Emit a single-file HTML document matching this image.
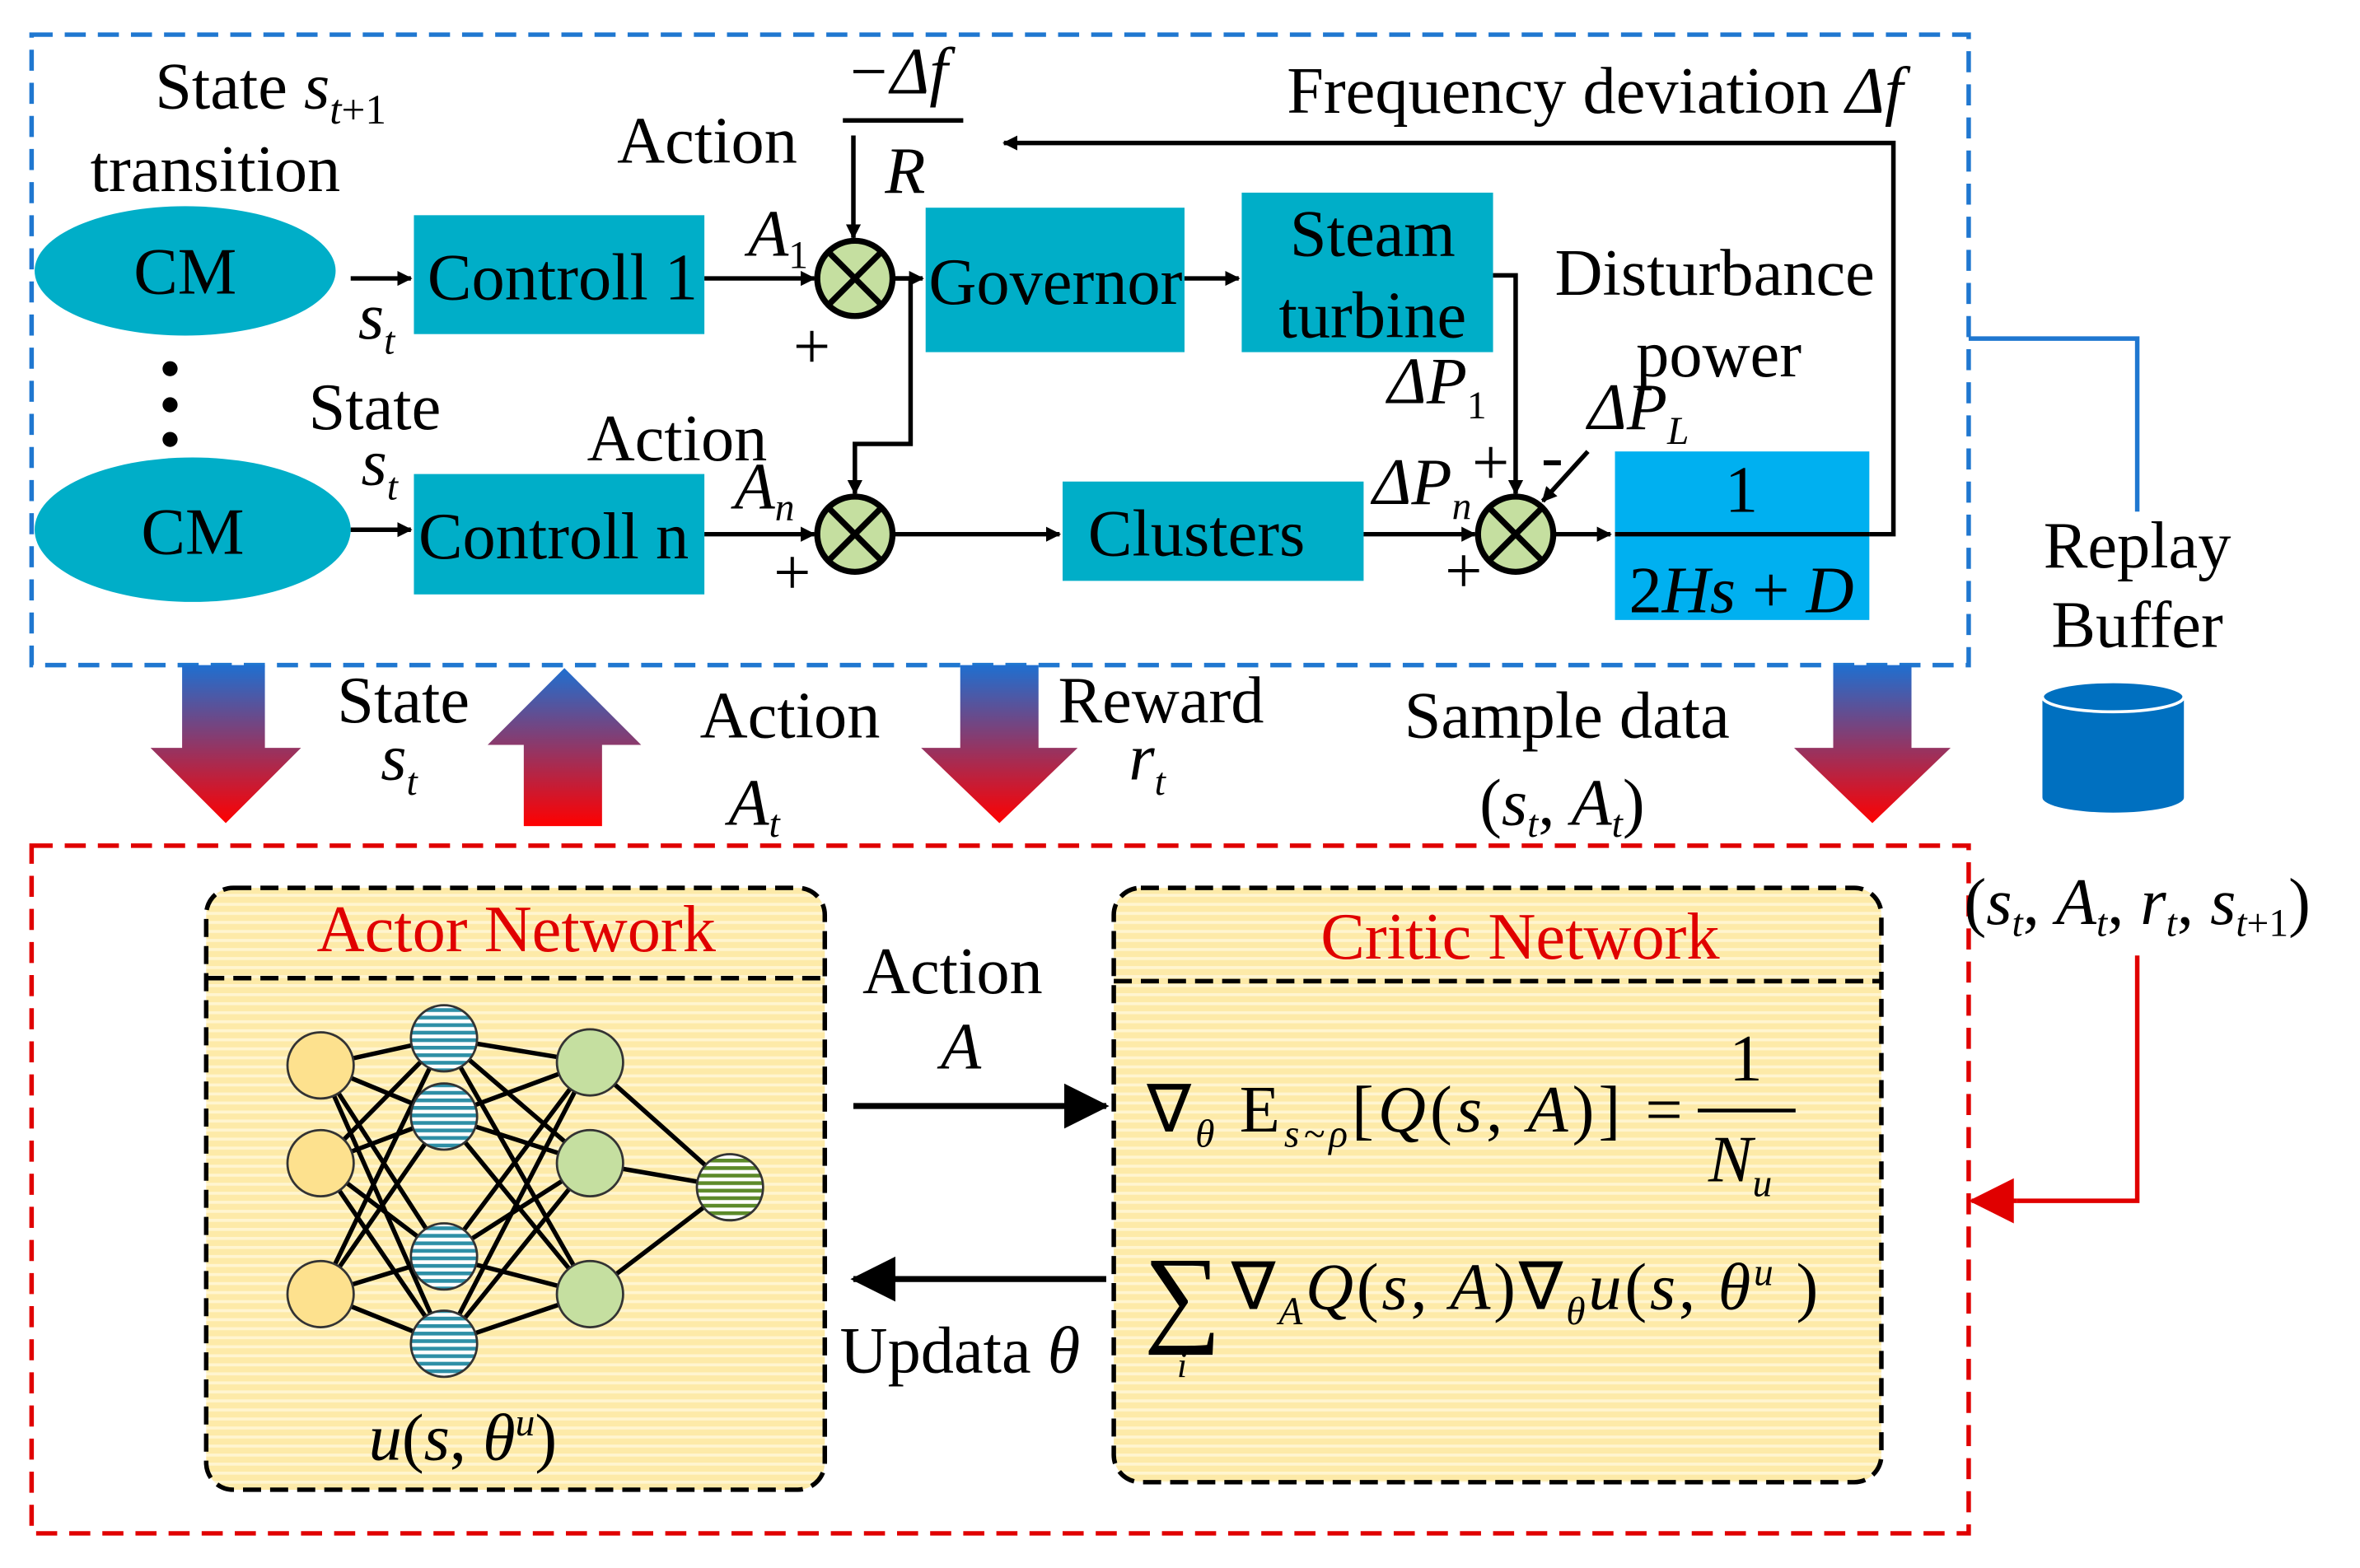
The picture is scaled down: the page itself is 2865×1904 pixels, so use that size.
<!DOCTYPE html>
<html><head><meta charset="utf-8"><style>
html,body{margin:0;padding:0;background:#fff}
svg{display:block}
text{font-family:"Liberation Serif",serif;fill:#000}
.t{font-size:44px}
.i{font-style:italic}
</style></head><body>
<svg width="2865" height="1904" viewBox="0 0 1568 1042" xmlns="http://www.w3.org/2000/svg">
<defs>
<marker id="ah" markerWidth="10" markerHeight="10" refX="9" refY="5" orient="auto" markerUnits="userSpaceOnUse"><path d="M0,0 L10,5 L0,10 z" fill="#000"/></marker>
<marker id="ahb" markerWidth="30" markerHeight="30" refX="28" refY="15" orient="auto" markerUnits="userSpaceOnUse"><path d="M0,0 L30,15 L0,30 z" fill="#000"/></marker>
<marker id="ahr" markerWidth="30" markerHeight="30" refX="28" refY="15" orient="auto" markerUnits="userSpaceOnUse"><path d="M0,0 L30,15 L0,30 z" fill="#e00000"/></marker>
<linearGradient id="gd" x1="0" y1="0" x2="0" y2="1"><stop offset="0" stop-color="#1f6fd0"/><stop offset="1" stop-color="#ff0000"/></linearGradient>
<linearGradient id="gu" x1="0" y1="1" x2="0" y2="0"><stop offset="0" stop-color="#ff0000"/><stop offset="1" stop-color="#1f6fd0"/></linearGradient>
<pattern id="st" width="6" height="6" patternUnits="userSpaceOnUse"><rect width="6" height="6" fill="#fdeaa8"/><rect width="6" height="2" fill="#fff5d0"/></pattern>
<pattern id="sb" width="5" height="5" patternUnits="userSpaceOnUse"><rect width="5" height="5" fill="#fff"/><rect width="5" height="2.5" fill="#2e8fa6"/></pattern>
<pattern id="sg" width="5" height="5" patternUnits="userSpaceOnUse"><rect width="5" height="5" fill="#fff"/><rect width="5" height="2.5" fill="#5c8a2a"/></pattern>
</defs>

<rect x="21" y="23" width="1287" height="419" fill="none" stroke="#1f77d0" stroke-width="3" stroke-dasharray="14,8"/>
<rect x="21" y="562" width="1287" height="457" fill="none" stroke="#e00000" stroke-width="3" stroke-dasharray="14,8"/>

<ellipse cx="123" cy="180" rx="100" ry="43" fill="#00aec8"/>
<text x="123" y="195" class="t" text-anchor="middle">CM</text>
<ellipse cx="128" cy="352" rx="105" ry="48" fill="#00aec8"/>
<text x="128" y="368" class="t" text-anchor="middle">CM</text>
<circle cx="113" cy="245" r="5"/><circle cx="113" cy="269" r="5"/><circle cx="113" cy="292" r="5"/>
<text x="103" y="72" class="t">State <tspan class="i">s</tspan><tspan class="i" font-size="28" dy="10">t</tspan><tspan font-size="28">+1</tspan></text>
<text x="60" y="127" class="t">transition</text>

<rect x="275" y="143" width="193" height="79" fill="#00aec8"/>
<text x="284" y="199" class="t">Controll 1</text>
<rect x="275" y="315" width="193" height="80" fill="#00aec8"/>
<text x="278" y="371" class="t">Controll n</text>
<line x1="233" y1="185" x2="273" y2="185" stroke="#000" stroke-width="3" marker-end="url(#ah)"/>
<line x1="233" y1="352" x2="273" y2="352" stroke="#000" stroke-width="3" marker-end="url(#ah)"/>
<text x="238" y="225" class="t i">s<tspan font-size="26" dy="10">t</tspan></text>
<text x="205" y="285" class="t">State</text>
<text x="240" y="322" class="t i">s<tspan font-size="26" dy="10">t</tspan></text>

<g stroke="#000" stroke-width="4" fill="#c5dfa0">
<circle cx="568" cy="185" r="25"/><circle cx="568" cy="355" r="25"/><circle cx="1007" cy="355" r="25"/>
</g>
<g stroke="#000" stroke-width="4">
<path d="M550,167 L586,203 M586,167 L550,203"/>
<path d="M550,337 L586,373 M586,337 L550,373"/>
<path d="M989,337 L1025,373 M1025,337 L989,373"/>
</g>
<line x1="468" y1="185" x2="541" y2="185" stroke="#000" stroke-width="3" marker-end="url(#ah)"/>
<line x1="468" y1="355" x2="541" y2="355" stroke="#000" stroke-width="3" marker-end="url(#ah)"/>
<text x="497" y="170" class="t i">A<tspan font-size="26" dy="8" font-style="normal">1</tspan></text>
<text x="488" y="338" class="t i">A<tspan font-size="26" dy="8">n</tspan></text>
<text x="527" y="245" class="t">+</text>
<text x="514" y="395" class="t">+</text>
<text x="410" y="108" class="t">Action</text>
<text x="390" y="306" class="t">Action</text>

<text x="562" y="62" class="t i">−Δf</text>
<line x1="560" y1="80" x2="640" y2="80" stroke="#000" stroke-width="3"/>
<text x="588" y="128" class="t i">R</text>
<line x1="567" y1="90" x2="567" y2="158" stroke="#000" stroke-width="3" marker-end="url(#ah)"/>
<polyline points="593,185 605,185 605,295 568,295 568,328" fill="none" stroke="#000" stroke-width="3" marker-end="url(#ah)"/>
<line x1="593" y1="185" x2="613" y2="185" stroke="#000" stroke-width="3" marker-end="url(#ah)"/>

<rect x="615" y="138" width="172" height="96" fill="#00aec8"/>
<text x="617" y="202" class="t">Governor</text>
<line x1="787" y1="185" x2="823" y2="185" stroke="#000" stroke-width="3" marker-end="url(#ah)"/>
<rect x="825" y="128" width="167" height="106" fill="#00aec8"/>
<text x="912" y="170" class="t" text-anchor="middle">Steam</text>
<text x="912" y="224" class="t" text-anchor="middle">turbine</text>
<polyline points="992,183 1007,183 1007,328" fill="none" stroke="#000" stroke-width="3" marker-end="url(#ah)"/>

<line x1="593" y1="355" x2="704" y2="355" stroke="#000" stroke-width="3" marker-end="url(#ah)"/>
<rect x="706" y="320" width="200" height="66" fill="#00aec8"/>
<text x="795" y="369" class="t" text-anchor="middle">Clusters</text>
<line x1="906" y1="355" x2="980" y2="355" stroke="#000" stroke-width="3" marker-end="url(#ah)"/>
<text x="912" y="335" class="t i">ΔP<tspan font-size="26" dy="10">n</tspan></text>
<text x="922" y="268" class="t i">ΔP<tspan font-size="26" dy="10" font-style="normal">1</tspan></text>
<text x="978" y="322" class="t">+</text>
<text x="960" y="394" class="t">+</text>
<text x="1024" y="318" class="t">-</text>
<text x="1055" y="285" class="t i">ΔP<tspan font-size="26" dy="10">L</tspan></text>
<line x1="1055" y1="300" x2="1025" y2="333" stroke="#000" stroke-width="3" marker-end="url(#ah)"/>
<text x="1033" y="196" class="t">Disturbance</text>
<text x="1087" y="250" class="t">power</text>

<rect x="1073" y="300" width="169" height="112" fill="#00b0f0"/>
<line x1="1032" y1="355" x2="1070" y2="355" stroke="#000" stroke-width="3" marker-end="url(#ah)"/>
<line x1="1073" y1="355" x2="1242" y2="355" stroke="#000" stroke-width="3"/>
<text x="1157" y="340" class="t" text-anchor="middle">1</text>
<text x="1157" y="407" class="t i" text-anchor="middle"><tspan font-style="normal">2</tspan>Hs <tspan font-style="normal">+</tspan> D</text>
<polyline points="1242,355 1258,355 1258,95 667,95" fill="none" stroke="#000" stroke-width="3" marker-end="url(#ah)"/>
<text x="855" y="75" class="t">Frequency deviation <tspan class="i">Δf</tspan></text>

<polyline points="1308,225 1420,225 1420,340" fill="none" stroke="#1f77d0" stroke-width="3"/>
<text x="1420" y="377" class="t" text-anchor="middle">Replay</text>
<text x="1420" y="430" class="t" text-anchor="middle">Buffer</text>
<path d="M1357,463 L1357,530 A47,10 0 0 0 1451,530 L1451,463 Z" fill="#0070c0"/>
<ellipse cx="1404" cy="463" rx="47" ry="10" fill="#0070c0" stroke="#fff" stroke-width="2"/>
<text x="1305" y="614" class="t i"><tspan font-style="normal">(</tspan>s<tspan font-size="26" dy="8">t</tspan><tspan dy="-8" font-style="normal">, </tspan>A<tspan font-size="26" dy="8">t</tspan><tspan dy="-8" font-style="normal">, </tspan>r<tspan font-size="26" dy="8">t</tspan><tspan dy="-8" font-style="normal">, </tspan>s<tspan font-size="26" dy="8">t</tspan><tspan font-size="26" font-style="normal">+1</tspan><tspan dy="-8" font-style="normal">)</tspan></text>
<polyline points="1420,635 1420,798 1340,798" fill="none" stroke="#e00000" stroke-width="3"/>
<line x1="1340" y1="798" x2="1310" y2="798" stroke="#e00000" stroke-width="3" marker-end="url(#ahr)"/>

<path d="M121,442 L176,442 L176,497 L200,497 L150,547 L100,497 L121,497 Z" fill="url(#gd)"/>
<path d="M348,549 L400,549 L400,495 L426,495 L375,444 L324,495 L348,495 Z" fill="url(#gu)"/>
<path d="M638,442 L690,442 L690,497 L716,497 L664,547 L612,497 L638,497 Z" fill="url(#gd)"/>
<path d="M1218,442 L1270,442 L1270,497 L1296,497 L1244,547 L1192,497 L1218,497 Z" fill="url(#gd)"/>
<text x="224" y="480" class="t">State</text>
<text x="253" y="518" class="t i">s<tspan font-size="26" dy="10">t</tspan></text>
<text x="465" y="490" class="t">Action</text>
<text x="484" y="548" class="t i">A<tspan font-size="26" dy="8">t</tspan></text>
<text x="703" y="480" class="t">Reward</text>
<text x="750" y="518" class="t i">r<tspan font-size="26" dy="10">t</tspan></text>
<text x="933" y="490" class="t">Sample data</text>
<text x="983" y="548" class="t i"><tspan font-style="normal">(</tspan>s<tspan font-size="26" dy="8">t</tspan><tspan dy="-8" font-style="normal">, </tspan>A<tspan font-size="26" dy="8">t</tspan><tspan dy="-8" font-style="normal">)</tspan></text>

<rect x="137" y="590" width="411" height="400" rx="18" fill="url(#st)" stroke="#000" stroke-width="3" stroke-dasharray="12,6"/>
<line x1="137" y1="650" x2="548" y2="650" stroke="#000" stroke-width="3" stroke-dasharray="12,6"/>
<text x="343" y="632" class="t" text-anchor="middle" style="fill:#e00000">Actor Network</text>
<g stroke="#000" stroke-width="3">
<path d="M213,708 L295,690 M213,708 L295,742 M213,708 L295,835 M213,708 L295,893
M213,773 L295,690 M213,773 L295,742 M213,773 L295,835 M213,773 L295,893
M213,860 L295,690 M213,860 L295,742 M213,860 L295,835 M213,860 L295,893
M295,690 L392,706 M295,690 L392,773 M295,690 L392,860
M295,742 L392,706 M295,742 L392,773 M295,742 L392,860
M295,835 L392,706 M295,835 L392,773 M295,835 L392,860
M295,893 L392,706 M295,893 L392,773 M295,893 L392,860
M392,706 L485,789 M392,773 L485,789 M392,860 L485,789"/>
</g>
<g stroke="#333" stroke-width="1.5">
<circle cx="213" cy="708" r="22" fill="#fde18e"/><circle cx="213" cy="773" r="22" fill="#fde18e"/><circle cx="213" cy="860" r="22" fill="#fde18e"/>
<circle cx="295" cy="690" r="22" fill="url(#sb)"/><circle cx="295" cy="742" r="22" fill="url(#sb)"/><circle cx="295" cy="835" r="22" fill="url(#sb)"/><circle cx="295" cy="893" r="22" fill="url(#sb)"/>
<circle cx="392" cy="706" r="22" fill="#c5dfa0"/><circle cx="392" cy="773" r="22" fill="#c5dfa0"/><circle cx="392" cy="860" r="22" fill="#c5dfa0"/>
<circle cx="485" cy="789" r="22" fill="url(#sg)"/>
</g>
<text x="245" y="970" class="t i">u<tspan font-style="normal">(</tspan>s<tspan font-style="normal">, </tspan>θ<tspan font-size="26" dy="-16">u</tspan><tspan dy="16" font-style="normal">)</tspan></text>

<text x="573" y="660" class="t">Action</text>
<text x="625" y="710" class="t i">A</text>
<line x1="567" y1="735" x2="735" y2="735" stroke="#000" stroke-width="4" marker-end="url(#ahb)"/>
<line x1="735" y1="850" x2="567" y2="850" stroke="#000" stroke-width="4" marker-end="url(#ahb)"/>
<text x="558" y="912" class="t">Updata <tspan class="i">θ</tspan></text>

<rect x="740" y="590" width="510" height="395" rx="18" fill="url(#st)" stroke="#000" stroke-width="3" stroke-dasharray="12,6"/>
<line x1="740" y1="652" x2="1250" y2="652" stroke="#000" stroke-width="3" stroke-dasharray="12,6"/>
<text x="1010" y="637" class="t" text-anchor="middle" style="fill:#e00000">Critic Network</text>
<text x="762" y="752" class="t" textLength="356" lengthAdjust="spacing">∇<tspan font-size="26" dy="10" class="i">θ</tspan><tspan dy="-10"> E</tspan><tspan font-size="26" dy="10" class="i">s~ρ</tspan><tspan dy="-10">[</tspan><tspan class="i">Q</tspan>(<tspan class="i">s</tspan>, <tspan class="i">A</tspan>)] =</text>
<text x="1160" y="718" class="t" text-anchor="middle">1</text>
<line x1="1128" y1="738" x2="1193" y2="738" stroke="#000" stroke-width="2.5"/>
<text x="1135" y="785" class="t i">N<tspan font-size="26" dy="10">u</tspan></text>
<text x="760" y="885" style="font-size:72px">∑</text>
<text x="782" y="915" class="i" style="font-size:24px">i</text>
<text x="818" y="870" class="t" textLength="390" lengthAdjust="spacing">∇<tspan font-size="26" dy="10" class="i">A</tspan><tspan dy="-10" class="i">Q</tspan>(<tspan class="i">s</tspan>, <tspan class="i">A</tspan>)∇<tspan font-size="26" dy="10" class="i">θ</tspan><tspan dy="-10" class="i">u</tspan>(<tspan class="i">s</tspan>, <tspan class="i">θ</tspan><tspan font-size="26" dy="-16" class="i">u</tspan><tspan dy="16"> )</tspan></text>
</svg>
</body></html>
